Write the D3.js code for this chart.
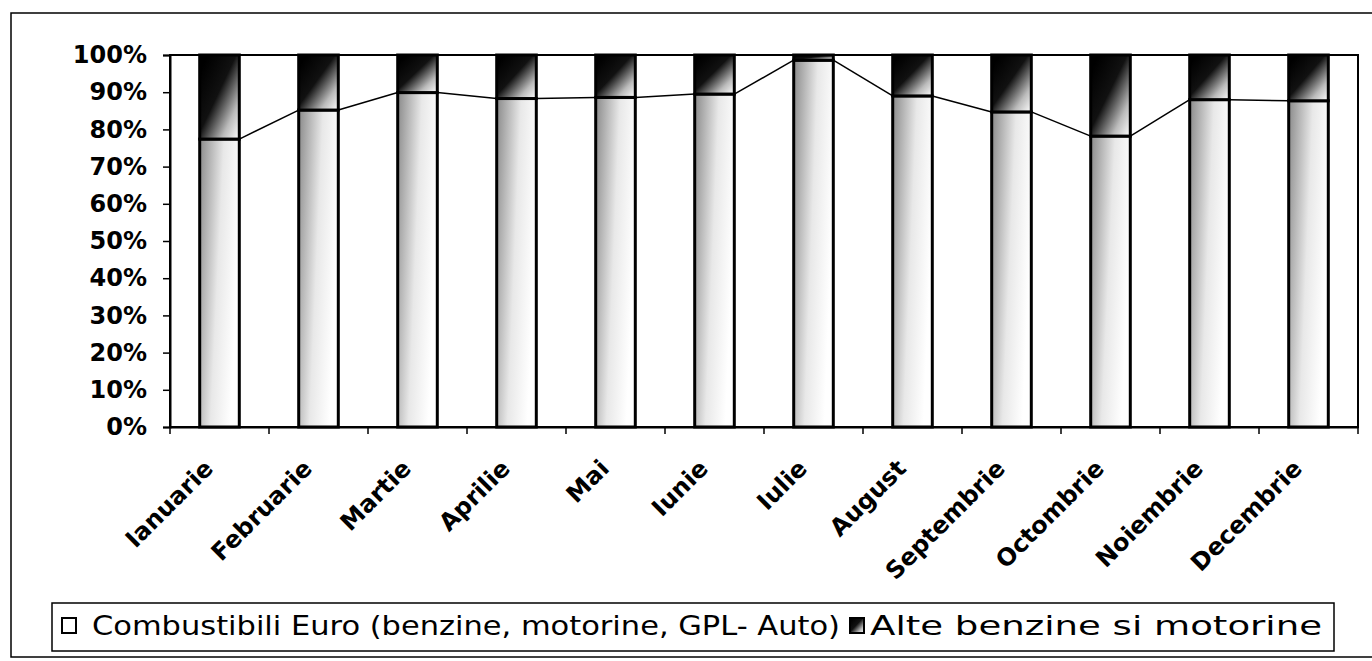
<!DOCTYPE html>
<html>
<head>
<meta charset="UTF-8">
<script src="https://d3js.org/d3.v7.min.js"></script>
<style>
  body { margin: 0; background: #fff; }
  svg { display: block; }
  .tick text { font-family: Verdana, "DejaVu Sans", sans-serif; font-weight: bold; font-size: 24px; fill: #000; }
</style>
</head>
<body>
<svg id="chart" width="1372" height="661"></svg>
<script>
  // month labels
  var months = ["Ianuarie", "Februarie", "Martie", "Aprilie", "Mai", "Iunie",
                "Iulie", "August", "Septembrie", "Octombrie", "Noiembrie", "Decembrie"];
  // share of each group (%)
  var euro = [77.4, 85.2, 89.9, 88.3, 88.6, 89.5, 98.6, 89.0, 84.7, 78.2, 88.0, 87.7];
  var alte = [22.6, 14.8, 10.1, 11.7, 11.4, 10.5, 1.4, 11.0, 15.3, 21.8, 12.0, 12.3];
  var seriesNames = ["Combustibili Euro (benzine, motorine, GPL- Auto)", "Alte benzine si motorine"];
  var yTicks = [0, 0.1, 0.2, 0.3, 0.4, 0.5, 0.6, 0.7, 0.8, 0.9, 1];

  var svg = d3.select("#chart");
  var margin = {top: 55, right: 14, bottom: 234, left: 170};
  var width = 1372 - margin.left - margin.right,
      height = 661 - margin.top - margin.bottom;

  // gradients
  var defs = svg.append("defs");
  var gLow = defs.append("linearGradient").attr("id", "gradEuro")
    .attr("x1", 0).attr("y1", 0).attr("x2", 1).attr("y2", 0.35);
  gLow.append("stop").attr("offset", "0%").attr("stop-color", "#8a8a8a");
  gLow.append("stop").attr("offset", "55%").attr("stop-color", "#e8e8e8");
  gLow.append("stop").attr("offset", "100%").attr("stop-color", "#ffffff");
  var gTop = defs.append("linearGradient").attr("id", "gradAlte")
    .attr("x1", 0.1).attr("y1", 0.1).attr("x2", 1).attr("y2", 1);
  gTop.append("stop").attr("offset", "0%").attr("stop-color", "#000");
  gTop.append("stop").attr("offset", "40%").attr("stop-color", "#111");
  gTop.append("stop").attr("offset", "75%").attr("stop-color", "#bbb");
  gTop.append("stop").attr("offset", "100%").attr("stop-color", "#fff");

  // outer border (right edge falls off the page, as in the scan)
  svg.append("rect")
    .attr("x", 11).attr("y", 13).attr("width", 1370).attr("height", 644)
    .attr("fill", "none").attr("stroke", "#000").attr("stroke-width", 1.5);

  var g = svg.append("g").attr("transform", "translate(" + margin.left + "," + margin.top + ")");

  var x = d3.scaleBand().domain(months).range([0, width]).paddingInner(0.6).paddingOuter(0.3);
  var y = d3.scaleLinear().domain([0, 1]).range([height, 0]);

  var table = months.map(function(m, i) { return {month: m, euro: euro[i], alte: alte[i]}; });
  var stacked = d3.stack().keys(["euro", "alte"]).offset(d3.stackOffsetExpand)(table);

  // plot frame
  g.append("rect").attr("width", width).attr("height", height)
    .attr("fill", "none").attr("stroke", "#000").attr("stroke-width", 2);

  var fills = {euro: "url(#gradEuro)", alte: "url(#gradAlte)"};
  g.selectAll("g.layer")
    .data(stacked)
    .join("g")
    .attr("class", "layer")
    .attr("fill", function(d) { return fills[d.key]; })
    .selectAll("rect")
    .data(function(d) { return d; })
    .join("rect")
    .attr("x", function(d) { return x(d.data.month); })
    .attr("y", function(d) { return y(d[1]); })
    .attr("width", x.bandwidth())
    .attr("height", function(d) { return y(d[0]) - y(d[1]); })
    .attr("stroke", "#000")
    .attr("stroke-width", 3);

  // series lines between bars
  var low = stacked[0];
  for (var i = 0; i < low.length - 1; i++) {
    g.append("line")
      .attr("x1", x(months[i]) + x.bandwidth()).attr("y1", y(low[i][1]))
      .attr("x2", x(months[i + 1])).attr("y2", y(low[i + 1][1]))
      .attr("stroke", "#000").attr("stroke-width", 1.5);
  }

  // axes
  var yAxis = g.append("g")
    .call(d3.axisLeft(y).tickValues(yTicks).tickFormat(d3.format(".0%")).tickSize(7).tickPadding(16));
  yAxis.select(".domain").attr("stroke-width", 2);
  yAxis.selectAll(".tick line").attr("stroke-width", 1.5);

  var xAxis = g.append("g").attr("transform", "translate(0," + height + ")")
    .call(d3.axisBottom(x).tickSize(0).tickFormat(""));
  xAxis.select(".domain").attr("stroke-width", 2);
  // ticks at category boundaries
  var step = x.step();
  xAxis.selectAll("line.bound")
    .data(d3.range(months.length + 1))
    .join("line")
    .attr("class", "bound")
    .attr("x1", function(d) { return d * step; }).attr("x2", function(d) { return d * step; })
    .attr("y1", 0).attr("y2", 7)
    .attr("stroke", "#000").attr("stroke-width", 1.5);

  xAxis.selectAll(".tick text").remove();
  xAxis.selectAll(".tick")
    .append("text")
    .attr("transform", "translate(-5,43) rotate(-45)")
    .attr("text-anchor", "end")
    .attr("fill", "#000")
    .text(function(d) { return d; });

  // legend
  var leg = svg.append("g").attr("transform", "translate(52,603)");
  leg.append("rect").attr("width", 1282).attr("height", 48)
    .attr("fill", "#fff").attr("stroke", "#000").attr("stroke-width", 1.5);
  leg.append("rect").attr("x", 10).attr("y", 15).attr("width", 14).attr("height", 15)
    .attr("fill", "#fff").attr("stroke", "#000").attr("stroke-width", 2);
  leg.append("text").attr("x", 40).attr("y", 32)
    .attr("font-family", "'DejaVu Sans', Verdana, sans-serif").attr("font-size", 27)
    .attr("textLength", 748).attr("lengthAdjust", "spacingAndGlyphs")
    .text(seriesNames[0]);
  leg.append("rect").attr("x", 798).attr("y", 15).attr("width", 14).attr("height", 15)
    .attr("fill", "url(#gradAlte)").attr("stroke", "#000").attr("stroke-width", 2);
  leg.append("text").attr("x", 818).attr("y", 32)
    .attr("font-family", "'DejaVu Sans', Verdana, sans-serif").attr("font-size", 27)
    .attr("textLength", 452).attr("lengthAdjust", "spacingAndGlyphs")
    .text(seriesNames[1]);
</script>
</body>
</html>
